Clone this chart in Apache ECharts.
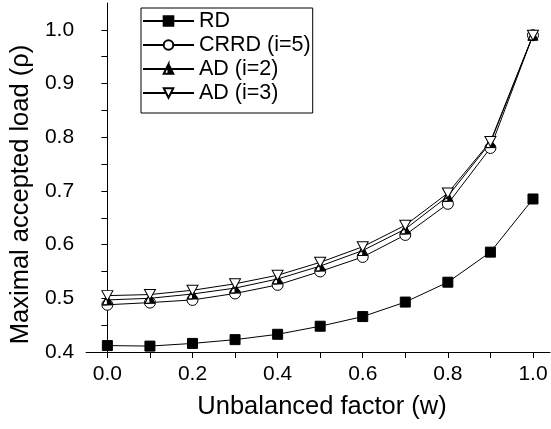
<!DOCTYPE html>
<html>
<head>
<meta charset="utf-8">
<script src="https://cdn.jsdelivr.net/npm/echarts@6/dist/echarts.min.js"></script>
<style>
  html, body { margin: 0; padding: 0; background: #fff; }
  #chart { width: 551px; height: 429px; }
</style>
</head>
<body>
<div id="chart"></div>
<script>
// unbalanced factor w
const wValues = [0.0, 0.1, 0.2, 0.3, 0.4, 0.5, 0.6, 0.7, 0.8, 0.9, 1.0];

// maximal accepted load
const rd = [0.412, 0.411, 0.416, 0.423, 0.433, 0.448, 0.466, 0.493, 0.530, 0.586, 0.685];
const crrd5 = [0.488, 0.492, 0.497, 0.509, 0.525, 0.550, 0.577, 0.618, 0.676, 0.780, 0.990];
const ad2 = [0.497, 0.500, 0.508, 0.519, 0.536, 0.560, 0.589, 0.629, 0.690, 0.790, 0.990];
const ad3 = [0.505, 0.507, 0.515, 0.527, 0.543, 0.567, 0.596, 0.636, 0.696, 0.792, 0.990];

const xLabels = [0.0, 0.2, 0.4, 0.6, 0.8, 1.0];
const xTicks = [0.0, 0.1, 0.2, 0.3, 0.4, 0.5, 0.6, 0.7, 0.8, 0.9, 1.0];
const yLabels = [0.4, 0.5, 0.6, 0.7, 0.8, 0.9, 1.0];
const yTicks = [0.4, 0.45, 0.5, 0.55, 0.6, 0.65, 0.7, 0.75, 0.8, 0.85, 0.9, 0.95, 1.0];

const FONT = 'Liberation Sans, Arial, Helvetica, sans-serif';

// half filled triangle: right half filled, left half is a hole
const HALF_TRI = 'path://M5,0 L10,10 L0,10 Z M5,0 L0,10 L5,10 Z';
const DOWN_TRI = 'path://M0,0 L10,0 L5,10 Z';

function toPairs(ys) {
  return wValues.map((w, i) => [w, ys[i]]);
}

function lineSeries(name, ys, symbol, size, fill) {
  return {
    name: name,
    type: 'line',
    data: toPairs(ys),
    symbol: symbol,
    symbolSize: size,
    showAllSymbol: true,
    lineStyle: { color: '#000', width: 1 },
    itemStyle: { color: fill, borderColor: '#000', borderWidth: 1 },
    emphasis: { disabled: true },
    z: 2,
  };
}

const chart = echarts.init(document.getElementById('chart'));
chart.setOption({
  animation: false,
  backgroundColor: '#fff',
  textStyle: { fontFamily: FONT },
  grid: {
    left: 85,
    right: 1,
    top: 3,
    bottom: 77,
  },
  legend: {
    orient: 'vertical',
    left: 141,
    top: 8,
    padding: [2, 2, 9, 1],
    borderColor: '#000',
    borderWidth: 1,
    itemWidth: 51,
    itemHeight: 12,
    itemGap: 2,
    textStyle: { color: '#000', fontSize: 21.5, fontFamily: FONT },
    data: ['RD', 'CRRD (i=5)', 'AD (i=2)', 'AD (i=3)'],
  },
  xAxis: {
    type: 'value',
    min: -0.05,
    max: 1.04,
    name: 'Unbalanced factor (w)',
    nameLocation: 'middle',
    nameGap: 42,
    nameTextStyle: { color: '#000', fontSize: 25.5, fontFamily: FONT, padding: [0, 0, 0, 8] },
    axisLine: { lineStyle: { color: '#000', width: 1 } },
    axisTick: { show: true, customValues: xTicks, length: 6, lineStyle: { color: '#000' } },
    axisLabel: {
      customValues: xLabels,
      margin: 12,
      color: '#000',
      fontSize: 21,
      fontFamily: FONT,
      formatter: (v) => v.toFixed(1),
    },
    splitLine: { show: false },
  },
  yAxis: {
    type: 'value',
    min: 0.4,
    max: 1.05,
    name: 'Maximal accepted load (\u03c1)',
    nameLocation: 'middle',
    nameGap: 49,
    nameTextStyle: { color: '#000', fontSize: 25.5, fontFamily: FONT, padding: [0, 34, 0, 0] },
    axisLine: { show: true, lineStyle: { color: '#000', width: 1 } },
    axisTick: { show: true, customValues: yTicks, length: 6, lineStyle: { color: '#000' } },
    axisLabel: {
      customValues: yLabels,
      margin: 12,
      color: '#000',
      fontSize: 21,
      fontFamily: FONT,
      formatter: (v) => v.toFixed(1),
    },
    splitLine: { show: false },
  },
  series: [
    lineSeries('RD', rd, 'rect', 10, '#000'),
    lineSeries('CRRD (i=5)', crrd5, 'circle', 11, '#fff'),
    lineSeries('AD (i=2)', ad2, HALF_TRI, [10, 10], '#000'),
    lineSeries('AD (i=3)', ad3, DOWN_TRI, [11, 10], '#fff'),
  ],
});
</script>
</body>
</html>
